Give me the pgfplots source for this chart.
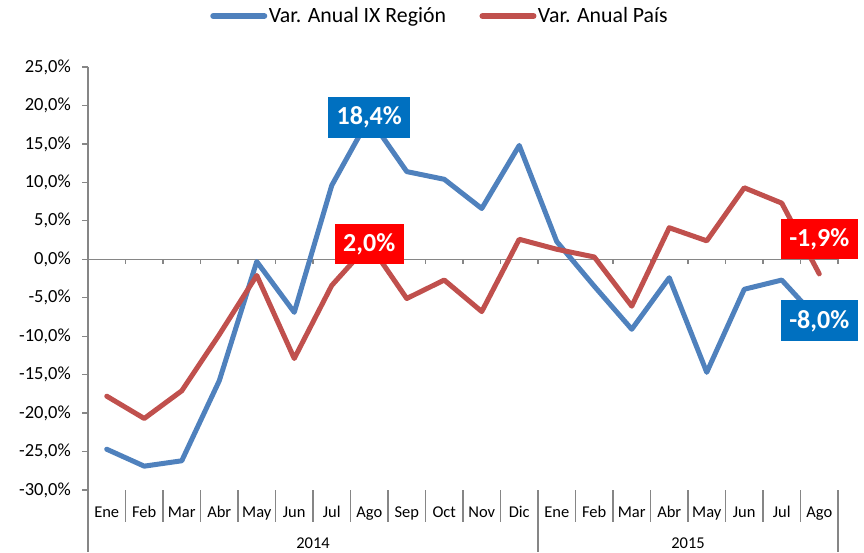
\documentclass[border=0pt]{standalone}
\usepackage{fontspec}
\setmainfont{Carlito}
\usepackage{pgfplots}
\pgfplotsset{compat=1.18}

\definecolor{serA}{HTML}{4F81BD}
\definecolor{serB}{HTML}{C0504D}
\definecolor{boxA}{HTML}{0070C0}
\definecolor{boxB}{HTML}{FF0000}
\definecolor{axgray}{HTML}{868686}

\pgfplotstableread{
x  region pais
1  -24.7  -17.8
2  -26.9  -20.7
3  -26.2  -17.1
4  -15.8  -9.8
5  -0.3   -2.1
6  -6.9   -12.9
7  9.6    -3.4
8  18.4   2.0
9  11.4   -5.1
10 10.4   -2.7
11 6.6    -6.8
12 14.8   2.6
13 2.3    1.3
14 -3.5   0.3
15 -9.1   -6.1
16 -2.4   4.1
17 -14.7  2.4
18 -3.9   9.3
19 -2.7   7.3
20 -8.0   -1.9
}\datos

\pgfplotsset{
    linea leyenda/.style={legend image code/.code={
        \draw[##1, line width=6pt, line cap=round] (0pt,0pt) -- (51pt,0pt);}},
}

\begin{document}
\begin{tikzpicture}
\path[use as bounding box] (-88pt,-62pt) rectangle (776pt,490pt);
\begin{axis}[
    scale only axis,
    width=750pt, height=423pt,
    xmin=0.5, xmax=20.5,
    ymin=-30, ymax=25,
    clip=false,
    axis line style={draw=none},
    ytick={-30,-25,...,25},
    ytick pos=left,
    xtick={1,...,20},
    xticklabels={Ene,Feb,Mar,Abr,May,Jun,Jul,Ago,Sep,Oct,Nov,Dic,Ene,Feb,Mar,Abr,May,Jun,Jul,Ago},
    tick align=outside,
    major tick length=5.5pt,
    ytick style={draw=axgray, line width=1.2pt},
    xtick style={draw=none},
    /pgf/number format/assume math mode=true,
    yticklabel={\pgfmathprintnumber[fixed,fixed zerofill,precision=1,use comma]{\tick}\%},
    yticklabel style={font=\fontsize{18.5}{20}\selectfont, inner sep=0pt, xshift=-11.5pt},
    xticklabel style={font=\fontsize{16.5}{18}\selectfont, anchor=base, inner sep=0pt, yshift=-21.5pt},
    legend columns=2,
    legend style={at={(0.469,1)}, anchor=center, yshift=51pt, draw=none, fill=none,
        font=\fontsize{21.8}{24}\selectfont, nodes={inner sep=1.5pt},
        /tikz/every even column/.append style={column sep=32pt}},
]
% eje cero, marcas y separadores de categorias
\draw[axgray, line width=1.3pt] (axis cs:0.5,0) -- (axis cs:20.5,0);
\pgfplotsinvokeforeach{1,...,20}{
    \draw[axgray, line width=1.2pt] (axis cs:#1+0.5,0) -- ++(0pt,-5pt);
}
\pgfplotsinvokeforeach{1,...,11,13,14,...,19}{
    \draw[axgray, line width=1.3pt] (axis cs:#1+0.5,-30) -- ++(0pt,-32pt);
}
\pgfplotsinvokeforeach{12,20}{
    \draw[axgray, line width=1.3pt] (axis cs:#1+0.5,-30) -- ++(0pt,-62pt);
}
\draw[axgray, line width=1.3pt] (axis cs:0.5,25) -- (axis cs:0.5,-30) -- ++(0pt,-62pt);
\node[anchor=base, font=\fontsize{16.5}{18}\selectfont] at ([yshift=-58pt]axis cs:6.5,-30) {2014};
\node[anchor=base, font=\fontsize{16.5}{18}\selectfont] at ([yshift=-58pt]axis cs:16.5,-30) {2015};

\addplot[serA, line width=5pt, line join=round, line cap=round, linea leyenda] table[x=x, y=region] {\datos};
\addlegendentry{Var. Anual IX Región}
\addplot[serB, line width=5pt, line join=round, line cap=round, linea leyenda] table[x=x, y=pais] {\datos};
\addlegendentry{Var. Anual País}

% etiquetas de datos
\addplot[draw=none, forget plot, point meta=y,
    nodes near coords={\pgfmathprintnumber[fixed,fixed zerofill,precision=1,use comma]{\pgfplotspointmeta}\%},
    nodes near coords align={center},
    every node near coord/.append style={fill=boxA, text=white, anchor=center,
        font=\fontsize{26}{30}\selectfont\bfseries, inner xsep=8.5pt, inner ysep=0pt, minimum height=41pt}]
    coordinates {(8,18.4) (20,-8.0)};
\addplot[draw=none, forget plot, point meta=y,
    nodes near coords={\pgfmathprintnumber[fixed,fixed zerofill,precision=1,use comma]{\pgfplotspointmeta}\%},
    nodes near coords align={center},
    every node near coord/.append style={fill=boxB, text=white, anchor=center,
        font=\fontsize{26}{30}\selectfont\bfseries, inner xsep=8.5pt, inner ysep=0pt, minimum height=40pt}]
    coordinates {(8,2.0)};
\addplot[draw=none, forget plot, point meta=y,
    nodes near coords={\pgfmathprintnumber[fixed,fixed zerofill,precision=1,use comma]{\pgfplotspointmeta}\%},
    nodes near coords align={center},
    every node near coord/.append style={fill=boxB, text=white, anchor=center, yshift=35pt,
        font=\fontsize{26}{30}\selectfont\bfseries, inner xsep=8.5pt, inner ysep=0pt, minimum height=40pt}]
    coordinates {(20,-1.9)};
\end{axis}
\end{tikzpicture}
\end{document}
